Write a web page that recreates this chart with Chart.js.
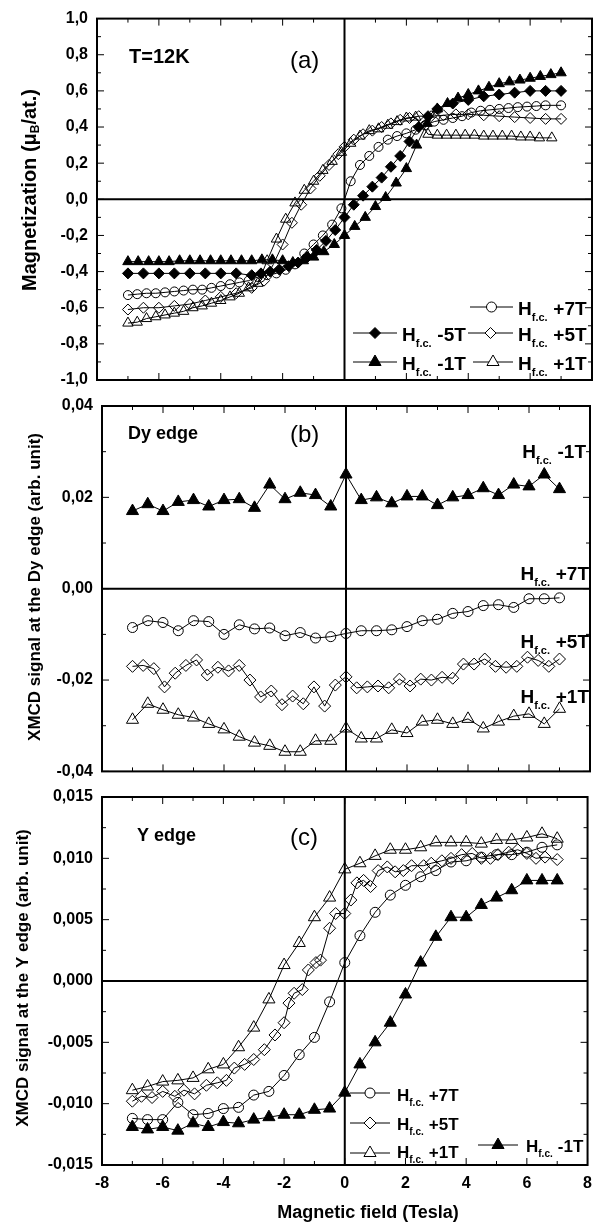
<!DOCTYPE html>
<html>
<head>
<meta charset="utf-8">
<title>Magnetization and XMCD</title>
<script src="https://cdn.jsdelivr.net/npm/chart.js@4.4.0/dist/chart.umd.min.js"></script>
<style>
  body { margin: 0; background: #fff; }
  #wrap { position: relative; width: 601px; height: 1222px; overflow: hidden; }
  .panel { position: absolute; left: 0; width: 601px; }
</style>
</head>
<body>
<div id="wrap">
  <div class="panel" style="top:0px;height:400px"><canvas id="chartA"></canvas></div>
  <div class="panel" style="top:386px;height:404px"><canvas id="chartB"></canvas></div>
  <div class="panel" style="top:777px;height:445px"><canvas id="chartC"></canvas></div>
</div>
<script>
// ---- panel (a): magnetization, T=12K ----
const aM5X = [-7,-6.5,-6,-5.5,-5,-4.5,-4,-3.5,-3,-2.7,-2.4,-2.1,-1.8,-1.5,-1.2,-0.9,-0.6,-0.3,0,0.3,0.6,0.9,1.2,1.5,1.8,2.1,2.4,2.7,3,3.5,4,4.5,5,5.5,6,6.5,7];
const aM5Y = [-0.41,-0.41,-0.41,-0.41,-0.41,-0.41,-0.41,-0.41,-0.42,-0.41,-0.4,-0.39,-0.37,-0.35,-0.32,-0.28,-0.23,-0.17,-0.1,-0.03,0.02,0.07,0.12,0.18,0.24,0.32,0.4,0.46,0.5,0.53,0.55,0.57,0.58,0.59,0.6,0.6,0.6];
const aM1X = [-7,-6.67,-6.33,-6,-5.67,-5.33,-5,-4.67,-4.33,-4,-3.67,-3.33,-3,-2.67,-2.33,-2,-1.67,-1.33,-1,-0.67,-0.33,0,0.33,0.67,1,1.33,1.67,2,2.33,2.67,3,3.33,3.67,4,4.33,4.67,5,5.33,5.67,6,6.33,6.67,7];
const aM1Y = [-0.345,-0.345,-0.345,-0.345,-0.345,-0.34,-0.34,-0.34,-0.34,-0.34,-0.34,-0.34,-0.34,-0.335,-0.335,-0.34,-0.35,-0.34,-0.32,-0.29,-0.25,-0.2,-0.15,-0.1,-0.04,0.01,0.09,0.17,0.3,0.42,0.5,0.53,0.56,0.58,0.6,0.62,0.64,0.65,0.66,0.67,0.68,0.69,0.7];
const aP7X = [-7,-6.7,-6.4,-6.1,-5.8,-5.5,-5.2,-4.9,-4.6,-4.3,-4,-3.7,-3.4,-3.1,-2.8,-2.5,-2.2,-1.9,-1.6,-1.3,-1,-0.7,-0.4,-0.1,0.2,0.5,0.8,1.1,1.4,1.7,2,2.3,2.6,2.9,3.2,3.5,3.8,4.1,4.4,4.7,5,5.3,5.6,5.9,6.2,6.5,7];
const aP7Y = [-0.53,-0.525,-0.52,-0.52,-0.515,-0.51,-0.505,-0.5,-0.5,-0.49,-0.48,-0.47,-0.46,-0.45,-0.43,-0.42,-0.41,-0.39,-0.36,-0.3,-0.25,-0.2,-0.14,-0.05,0.1,0.19,0.24,0.29,0.33,0.35,0.365,0.385,0.41,0.43,0.44,0.45,0.46,0.48,0.49,0.495,0.5,0.505,0.51,0.513,0.516,0.52,0.52];
const aP5X = [-7,-6.5,-6,-5.5,-5,-4.5,-4,-3.5,-3,-2.6,-2.3,-2,-1.7,-1.4,-1.1,-0.8,-0.5,-0.2,0,0.3,0.6,0.9,1.2,1.5,1.8,2.1,2.4,2.8,3.2,3.6,4,4.5,5,5.5,6,6.5,7];
const aP5Y = [-0.61,-0.6,-0.6,-0.59,-0.58,-0.56,-0.54,-0.52,-0.49,-0.45,-0.36,-0.25,-0.13,-0.03,0.06,0.13,0.19,0.25,0.29,0.33,0.36,0.38,0.4,0.42,0.44,0.45,0.46,0.46,0.465,0.47,0.47,0.465,0.46,0.455,0.45,0.445,0.445];
const aP1X = [-7,-6.7,-6.4,-6.1,-5.8,-5.5,-5.2,-4.9,-4.6,-4.3,-4,-3.7,-3.4,-3.1,-2.8,-2.5,-2.2,-1.9,-1.6,-1.3,-1,-0.7,-0.4,-0.1,0.2,0.5,0.8,1.1,1.4,1.7,2,2.3,2.7,3,3.3,3.6,3.9,4.2,4.5,4.8,5.1,5.4,5.7,6,6.3,6.7];
const aP1Y = [-0.685,-0.68,-0.66,-0.65,-0.64,-0.63,-0.62,-0.6,-0.59,-0.575,-0.56,-0.54,-0.52,-0.49,-0.465,-0.34,-0.22,-0.11,-0.02,0.05,0.1,0.16,0.21,0.26,0.31,0.35,0.38,0.39,0.41,0.43,0.45,0.455,0.36,0.355,0.355,0.355,0.355,0.355,0.35,0.35,0.35,0.35,0.345,0.345,0.34,0.34];

// ---- panel (b): XMCD at the Dy edge ----
const bX = [-7,-6.5,-6,-5.5,-5,-4.5,-4,-3.5,-3,-2.5,-2,-1.5,-1,-0.5,0,0.5,1,1.5,2,2.5,3,3.5,4,4.5,5,5.5,6,6.5,7];
const bM1Y = [0.017,0.0185,0.017,0.019,0.0194,0.018,0.0194,0.0196,0.0177,0.0228,0.0196,0.021,0.0205,0.018,0.025,0.0194,0.02,0.0187,0.0202,0.0202,0.0183,0.02,0.0205,0.022,0.0205,0.0228,0.0224,0.025,0.0218];
const bP7Y = [-0.0085,-0.007,-0.0074,-0.0092,-0.007,-0.0072,-0.01,-0.0079,-0.0088,-0.0086,-0.0103,-0.0096,-0.0108,-0.0105,-0.0098,-0.0092,-0.0092,-0.009,-0.0083,-0.007,-0.0067,-0.0054,-0.005,-0.0037,-0.0035,-0.0041,-0.0022,-0.0022,-0.002];
const bP1Y = [-0.0287,-0.0252,-0.0265,-0.0276,-0.0282,-0.0296,-0.0308,-0.0324,-0.0337,-0.0344,-0.0357,-0.0357,-0.0333,-0.0333,-0.0306,-0.0328,-0.0328,-0.0309,-0.0316,-0.0291,-0.0287,-0.0296,-0.0285,-0.0306,-0.0291,-0.0279,-0.0274,-0.0296,-0.0263];
const bP5X = [-7,-6.65,-6.3,-5.95,-5.6,-5.25,-4.9,-4.55,-4.2,-3.85,-3.5,-3.15,-2.8,-2.45,-2.1,-1.75,-1.4,-1.05,-0.7,-0.35,0,0.35,0.7,1.05,1.4,1.75,2.1,2.45,2.8,3.15,3.5,3.85,4.2,4.55,4.9,5.25,5.6,5.95,6.3,6.65,7];
const bP5Y = [-0.017,-0.0168,-0.0175,-0.0215,-0.0185,-0.0168,-0.0156,-0.0189,-0.0172,-0.018,-0.0168,-0.02,-0.0237,-0.0224,-0.0254,-0.0235,-0.0252,-0.0215,-0.0257,-0.0211,-0.0193,-0.0217,-0.0215,-0.0213,-0.0217,-0.0198,-0.0213,-0.0198,-0.02,-0.0194,-0.0196,-0.0165,-0.0165,-0.0154,-0.017,-0.0172,-0.017,-0.015,-0.0157,-0.017,-0.0154];

// ---- panel (c): XMCD at the Y edge ----
const cX = [-7,-6.5,-6,-5.5,-5,-4.5,-4,-3.5,-3,-2.5,-2,-1.5,-1,-0.5,0,0.5,1,1.5,2,2.5,3,3.5,4,4.5,5,5.5,6,6.5,7];
const cP7Y = [-0.0112,-0.0113,-0.0113,-0.0099,-0.0109,-0.0108,-0.0104,-0.0103,-0.0093,-0.009,-0.0077,-0.006,-0.0046,-0.0017,0.0015,0.0037,0.0056,0.007,0.0078,0.0085,0.009,0.0097,0.0098,0.0101,0.0103,0.0103,0.0105,0.0109,0.0111];
const cP1Y = [-0.0089,-0.0086,-0.0082,-0.0081,-0.0079,-0.0072,-0.0068,-0.0054,-0.0038,-0.0015,0.0013,0.0031,0.0052,0.0068,0.0091,0.0096,0.0102,0.0107,0.0107,0.0109,0.0113,0.0113,0.0113,0.0112,0.0115,0.0115,0.0117,0.012,0.0116];
const cM1Y = [-0.0119,-0.0121,-0.0119,-0.0122,-0.0116,-0.0119,-0.0115,-0.0116,-0.0113,-0.0111,-0.0109,-0.0109,-0.0105,-0.0104,-0.0091,-0.0068,-0.005,-0.0034,-0.0011,0.0015,0.0036,0.0052,0.0052,0.0062,0.0068,0.0074,0.0082,0.0082,0.0082];
const cP5X = [-7,-6.7,-6.35,-6,-5.6,-5.3,-4.95,-4.56,-4.2,-3.9,-3.64,-3.3,-3,-2.65,-2.3,-2,-1.84,-1.67,-1.4,-1.2,-0.95,-0.8,-0.5,-0.3,0,0.2,0.4,0.62,0.85,1.1,1.4,1.66,1.93,2.2,2.6,2.85,3.2,3.5,3.85,4.2,4.5,4.8,5.05,5.4,5.7,6,6.3,6.6,7];
const cP5Y = [-0.0098,-0.0094,-0.0095,-0.009,-0.0094,-0.0089,-0.0092,-0.0085,-0.0083,-0.0081,-0.0071,-0.0068,-0.0064,-0.0056,-0.0044,-0.0034,-0.0018,-0.001,-0.0007,0.0009,0.0015,0.0017,0.0043,0.0055,0.0055,0.0066,0.008,0.0082,0.0077,0.009,0.0093,0.0089,0.009,0.0094,0.0094,0.0096,0.0098,0.01,0.0103,0.0104,0.01,0.01,0.0103,0.0105,0.0107,0.0104,0.01,0.0101,0.0099];

const FONT = "'Liberation Sans', Arial, Helvetica, sans-serif";

function pts(xs, ys) {
  return xs.map((x, i) => ({ x: x, y: ys[i] }));
}

// one measured curve: black thin line plus markers
function series(xs, ys, style, filled, r) {
  return {
    data: pts(xs, ys),
    showLine: true,
    borderColor: '#000',
    borderWidth: 1,
    pointStyle: style,
    pointRadius: r,
    pointHoverRadius: r,
    pointBackgroundColor: filled ? '#000' : 'rgba(0,0,0,0)',
    pointBorderColor: '#000',
    pointBorderWidth: 1,
    tension: 0
  };
}

function marker(ctx, style, x, y, r, filled) {
  ctx.beginPath();
  if (style === 'circle') {
    ctx.arc(x, y, r, 0, Math.PI * 2);
  } else if (style === 'triangle') {
    ctx.moveTo(x, y - r);
    ctx.lineTo(x + r * 0.866, y + r * 0.5);
    ctx.lineTo(x - r * 0.866, y + r * 0.5);
    ctx.closePath();
  } else {
    ctx.moveTo(x - r, y); ctx.lineTo(x, y - r); ctx.lineTo(x + r, y); ctx.lineTo(x, y + r);
    ctx.closePath();
  }
  ctx.fillStyle = filled ? '#000' : '#fff';
  ctx.fill();
  ctx.lineWidth = 1;
  ctx.strokeStyle = '#000';
  ctx.stroke();
}

// "H" with subscript "f.c." followed by the field value
function hfc(ctx, x, y, size, rest, alignRight) {
  const big = 'bold ' + size + 'px ' + FONT;
  const small = 'bold ' + Math.round(size * 0.58) + 'px ' + FONT;
  ctx.font = big;
  const wH = ctx.measureText('H').width;
  const wR = ctx.measureText(rest).width;
  ctx.font = small;
  const wS = ctx.measureText('f.c.').width;
  const gap = size * 0.3;
  const x0 = alignRight ? x - (wH + wS + gap + wR) : x;
  ctx.fillStyle = '#000';
  ctx.textAlign = 'left';
  ctx.textBaseline = 'alphabetic';
  ctx.font = big; ctx.fillText('H', x0, y);
  ctx.font = small; ctx.fillText('f.c.', x0 + wH, y + size * 0.3);
  ctx.font = big; ctx.fillText(rest, x0 + wH + wS + gap, y);
}

function key(ctx, x1, x2, y, style, filled, r, tx, ty, size, rest) {
  ctx.save();
  ctx.strokeStyle = '#000';
  ctx.lineWidth = 1;
  ctx.beginPath(); ctx.moveTo(x1, y); ctx.lineTo(x2, y); ctx.stroke();
  marker(ctx, style, (x1 + x2) / 2, y, r, filled);
  hfc(ctx, tx, ty, size, rest, false);
  ctx.restore();
}

function text(ctx, s, x, y, font, align) {
  ctx.font = font;
  ctx.fillStyle = '#000';
  ctx.textAlign = align || 'left';
  ctx.textBaseline = 'alphabetic';
  ctx.fillText(s, x, y);
}

function yTitle(ctx, cx, cy, parts, size) {
  // parts: [text, isSubscript]
  const big = 'bold ' + size + 'px ' + FONT;
  const small = 'bold ' + Math.round(size * 0.6) + 'px ' + FONT;
  let w = 0;
  parts.forEach(p => { ctx.font = p[1] ? small : big; w += ctx.measureText(p[0]).width; });
  ctx.save();
  ctx.translate(cx, cy);
  ctx.rotate(-Math.PI / 2);
  ctx.fillStyle = '#000';
  ctx.textAlign = 'left';
  ctx.textBaseline = 'middle';
  let x = -w / 2;
  parts.forEach(p => {
    ctx.font = p[1] ? small : big;
    ctx.fillText(p[0], x, p[1] ? size * 0.3 : 0);
    x += ctx.measureText(p[0]).width;
  });
  ctx.restore();
}

// box, zero lines, inward ticks and annotations for one panel
function framePlugin(yMinor, annotate) {
  return {
    id: 'frame',
    beforeDatasetsDraw(chart) {
      const { ctx, chartArea: ca, scales: { x, y } } = chart;
      ctx.save();
      ctx.strokeStyle = '#000';
      ctx.lineWidth = 2;
      const x0 = x.getPixelForValue(0), y0 = y.getPixelForValue(0);
      ctx.beginPath();
      ctx.moveTo(x0, ca.top); ctx.lineTo(x0, ca.bottom);
      ctx.moveTo(ca.left, y0); ctx.lineTo(ca.right, y0);
      ctx.stroke();
      ctx.restore();
    },
    afterDatasetsDraw(chart) {
      const { ctx, chartArea: ca, scales: { x, y } } = chart;
      ctx.save();
      ctx.strokeStyle = '#000';
      ctx.lineWidth = 1;
      ctx.beginPath();
      for (let v = x.min; v <= x.max; v += 1) {
        const px = x.getPixelForValue(v);
        const len = Math.round(v) % 2 === 0 ? 7 : 4;
        ctx.moveTo(px, ca.bottom); ctx.lineTo(px, ca.bottom - len);
        ctx.moveTo(px, ca.top); ctx.lineTo(px, ca.top + len);
      }
      const n = Math.round((y.max - y.min) / yMinor);
      for (let i = 0; i <= n; i++) {
        const py = y.getPixelForValue(y.min + i * yMinor);
        const len = i % 2 === 0 ? 7 : 4;
        ctx.moveTo(ca.left, py); ctx.lineTo(ca.left + len, py);
        ctx.moveTo(ca.right, py); ctx.lineTo(ca.right - len, py);
      }
      ctx.stroke();
      ctx.lineWidth = 2;
      ctx.strokeRect(ca.left, ca.top, ca.right - ca.left, ca.bottom - ca.top);
      ctx.restore();
      ctx.save();
      annotate(ctx);
      ctx.restore();
    }
  };
}

function comma(dec) {
  return v => Number(v).toFixed(dec).replace('.', ',');
}

function makeChart(id, datasets, yMin, yMax, yStep, yMinor, dec, left, pad, showX, annotate) {
  const tickFont = { family: FONT, weight: 'bold', size: 16 };
  return new Chart(document.getElementById(id), {
    type: 'line',
    data: { datasets: datasets },
    options: {
      responsive: true,
      maintainAspectRatio: false,
      animation: false,
      events: [],
      layout: { padding: pad },
      plugins: { legend: { display: false }, tooltip: { enabled: false } },
      scales: {
        x: {
          type: 'linear', min: -8, max: 8, display: showX,
          ticks: { stepSize: 2, font: tickFont, color: '#000', padding: 9 },
          grid: { display: false, drawTicks: false },
          border: { display: false },
          afterFit: s => { s.height = showX ? 57 : 0; }
        },
        y: {
          min: yMin, max: yMax,
          ticks: { stepSize: yStep, font: tickFont, color: '#000', padding: 9, callback: comma(dec) },
          grid: { display: false, drawTicks: false },
          border: { display: false },
          afterFit: s => { s.width = left; }
        }
      }
    },
    plugins: [framePlugin(yMinor, annotate)]
  });
}

// panel (a)
makeChart('chartA', [
  series(aP7X, aP7Y, 'circle', false, 4.5),
  series(aP5X, aP5Y, 'rectRot', false, 5.5),
  series(aP1X, aP1Y, 'triangle', false, 6),
  series(aM5X, aM5Y, 'rectRot', true, 5.5),
  series(aM1X, aM1Y, 'triangle', true, 6)
], -1, 1, 0.2, 0.1, 1, 97, { top: 18, bottom: 20, right: 9, left: 0 }, false, ctx => {
  text(ctx, 'T=12K', 129, 63, 'bold 20px ' + FONT);
  text(ctx, '(a)', 290, 68, '24px ' + FONT);
  yTitle(ctx, 30, 190, [['Magnetization (\u03bc', false], ['B', true], ['/at.)', false]], 20);
  key(ctx, 470, 513, 307, 'circle', false, 5, 518, 315, 19, '+7T');
  key(ctx, 353, 397, 333, 'rectRot', true, 5.5, 402, 341, 19, '-5T');
  key(ctx, 468, 513, 333, 'rectRot', false, 5.5, 518, 341, 19, '+5T');
  key(ctx, 353, 397, 362, 'triangle', true, 7, 402, 370, 19, '-1T');
  key(ctx, 473, 513, 362, 'triangle', false, 7, 518, 370, 19, '+1T');
});

// panel (b)
makeChart('chartB', [
  series(bX, bM1Y, 'triangle', true, 7),
  series(bX, bP7Y, 'circle', false, 5),
  series(bP5X, bP5Y, 'rectRot', false, 6),
  series(bX, bP1Y, 'triangle', false, 7)
], -0.04, 0.04, 0.02, 0.01, 2, 102, { top: 20, bottom: 16, right: 11, left: 0 }, false, ctx => {
  text(ctx, 'Dy edge', 128, 53, 'bold 18px ' + FONT);
  text(ctx, '(b)', 290, 56, '24px ' + FONT);
  yTitle(ctx, 35, 201, [['XMCD signal at the Dy edge (arb. unit)', false]], 17);
  hfc(ctx, 586, 72, 19, '-1T', true);
  hfc(ctx, 589, 194, 19, '+7T', true);
  hfc(ctx, 589, 262, 19, '+5T', true);
  hfc(ctx, 589, 317, 19, '+1T', true);
});

// panel (c)
makeChart('chartC', [
  series(cX, cP7Y, 'circle', false, 5),
  series(cP5X, cP5Y, 'rectRot', false, 6),
  series(cX, cP1Y, 'triangle', false, 7),
  series(cX, cM1Y, 'triangle', true, 7)
], -0.015, 0.015, 0.005, 0.0025, 3, 102, { top: 20, bottom: 0, right: 11, left: 0 }, true, ctx => {
  text(ctx, 'Y edge', 137, 64, 'bold 18px ' + FONT);
  text(ctx, '(c)', 290, 68, '24px ' + FONT);
  yTitle(ctx, 23, 201, [['XMCD signal at the Y edge (arb. unit)', false]], 17);
  text(ctx, 'Magnetic field (Tesla)', 368, 441, 'bold 18px ' + FONT, 'center');
  key(ctx, 350, 390, 316, 'circle', false, 5, 397, 324, 17, '+7T');
  key(ctx, 350, 390, 346, 'rectRot', false, 6, 397, 353, 17, '+5T');
  key(ctx, 350, 390, 376, 'triangle', false, 7, 397, 381, 17, '+1T');
  key(ctx, 478, 518, 368, 'triangle', true, 7, 526, 375, 17, '-1T');
});
</script>
</body>
</html>
